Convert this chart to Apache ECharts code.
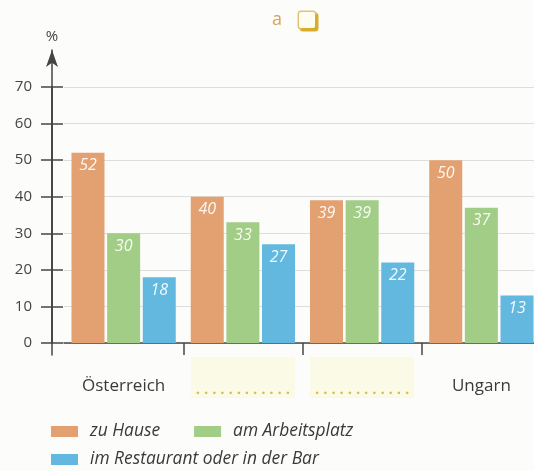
<!DOCTYPE html>
<html>
<head>
<meta charset="utf-8">
<script src="https://cdn.jsdelivr.net/npm/echarts@6/dist/echarts.min.js"></script>
<style>
  html, body { margin: 0; padding: 0; background: #fcfcfa; }
  #chart { width: 534px; height: 471px; }
</style>
</head>
<body>
<div id="chart"></div>
<script>
// Countries (two left blank to be filled in)
const categories = ['Österreich', '', ' ', 'Ungarn'];
// Shares in percent
const zuHause = [52, 40, 39, 50];
const amArbeitsplatz = [30, 33, 39, 37];
const imRestaurant = [18, 27, 22, 13];
const seriesNames = ['zu Hause', 'am Arbeitsplatz', 'im Restaurant oder in der Bar'];
const yTicks = { min: 0, max: 70, step: 10 };

const colors = ['#e3a070', '#a2cd86', '#62b8de'];
const fontFamily = '"Open Sans", "Noto Sans", sans-serif';
const axisColor = '#454545';

const chart = echarts.init(document.getElementById('chart'), null, { renderer: 'canvas' });

const barLabel = {
  show: true,
  position: 'insideTop',
  distance: 5,
  color: '#ffffff',
  fontStyle: 'italic',
  fontSize: 16,
  fontFamily: fontFamily,
  opacity: 0.92
};

function bar(name, data, idx) {
  return {
    name: name,
    type: 'bar',
    xAxisIndex: 0,
    yAxisIndex: 0,
    data: data,
    barWidth: 33,
    barGap: '8%',
    itemStyle: { color: colors[idx] },
    label: barLabel,
    emphasis: { disabled: true }
  };
}

const legendRich = {
  t: { padding: [0, 0, 0, 7], fontFamily: fontFamily, fontStyle: 'italic', fontSize: 17.4, color: '#3a3a3a' }
};

function legendBlock(names, top) {
  return {
    data: names,
    left: 46,
    top: top,
    icon: 'rect',
    itemWidth: 27,
    itemHeight: 11,
    itemGap: 34,
    selectedMode: false,
    formatter: '{t|{name}}',
    textStyle: { fontFamily: fontFamily, fontStyle: 'italic', fontSize: 17.4, color: '#3a3a3a', rich: legendRich }
  };
}

const gridBase = { left: 64, right: -7, outerBoundsMode: 'none', containLabel: false };

chart.setOption({
  animation: false,
  backgroundColor: '#fcfcfa',
  color: colors,
  title: {
    text: '{a|a}{box|}',
    left: 267,
    top: 6,
    textStyle: {
      rich: {
        a: { color: '#d9a258', fontFamily: fontFamily, fontSize: 18, fontWeight: 'normal', padding: [0, 17, 0, 0] },
        box: {
          width: 16,
          height: 16,
          borderColor: '#e6c277',
          borderWidth: 1.5,
          borderRadius: 2,
          backgroundColor: '#fffdf0',
          shadowColor: '#d9ad2a',
          shadowOffsetX: 2,
          shadowOffsetY: 2,
          shadowBlur: 0
        }
      }
    }
  },
  legend: [
    legendBlock(seriesNames.slice(0, 2), 418),
    legendBlock(seriesNames.slice(2), 446)
  ],
  grid: [
    Object.assign({}, gridBase, { top: 87, bottom: 128 }),
    Object.assign({}, gridBase, { top: 50, bottom: 116 })
  ],
  xAxis: [
    {
      type: 'category',
      gridIndex: 0,
      position: 'bottom',
      data: categories,
      axisLine: { lineStyle: { color: axisColor, width: 1.5 } },
      axisTick: {
        show: true,
        length: 12,
        interval: function (index) { return index !== 0; },
        lineStyle: { color: axisColor, width: 1.5 }
      },
      axisLabel: {
        interval: 0,
        margin: 14,
        formatter: function (v) {
          return v.trim() === '' ? '{ph|. . . . . . . . . . . .}' : '{nm|' + v + '}';
        },
        rich: {
          nm: {
            fontFamily: fontFamily,
            fontSize: 17,
            color: '#3a3a3a',
            lineHeight: 20,
            padding: [38, 0, 0, 0]
          },
          ph: {
            fontFamily: fontFamily,
            fontSize: 15,
            fontWeight: 'bold',
            color: '#d6bd4f',
            width: 104,
            height: 16,
            align: 'center',
            backgroundColor: '#fafae6',
            padding: [25, 0, 0, 0]
          }
        }
      }
    },
    { type: 'category', gridIndex: 1, data: categories, show: false }
  ],
  yAxis: [
    {
      type: 'value',
      gridIndex: 0,
      position: 'left',
      min: yTicks.min,
      max: yTicks.max,
      interval: yTicks.step,
      offset: 12,
      axisLine: { show: true, lineStyle: { color: axisColor, width: 1.5 } },
      axisTick: { show: true, length: 11, lineStyle: { color: axisColor, width: 1.5 } },
      axisLabel: { margin: 20, fontFamily: fontFamily, fontSize: 15, color: '#444444' },
      splitLine: { show: true, lineStyle: { color: '#dedede', width: 1 } }
    },
    {
      type: 'value',
      gridIndex: 0,
      position: 'left',
      min: yTicks.min,
      max: yTicks.max,
      interval: yTicks.step,
      offset: 12,
      axisLine: { show: true, lineStyle: { color: axisColor, width: 1.5 } },
      axisTick: { show: true, inside: true, length: 11, lineStyle: { color: axisColor, width: 1.5 } },
      axisLabel: { show: false },
      splitLine: { show: false }
    },
    {
      type: 'value',
      gridIndex: 1,
      position: 'left',
      offset: 12,
      name: '%',
      nameLocation: 'end',
      nameGap: 6,
      nameTextStyle: { fontFamily: fontFamily, fontSize: 15, color: '#444444' },
      axisLine: {
        show: true,
        symbol: ['none', 'arrow'],
        symbolSize: [9, 17],
        lineStyle: { color: axisColor, width: 1.5 }
      },
      axisTick: { show: false },
      axisLabel: { show: false },
      splitLine: { show: false }
    }
  ],
  series: [
    bar(seriesNames[0], zuHause, 0),
    bar(seriesNames[1], amArbeitsplatz, 1),
    bar(seriesNames[2], imRestaurant, 2)
  ]
});
</script>
</body>
</html>
